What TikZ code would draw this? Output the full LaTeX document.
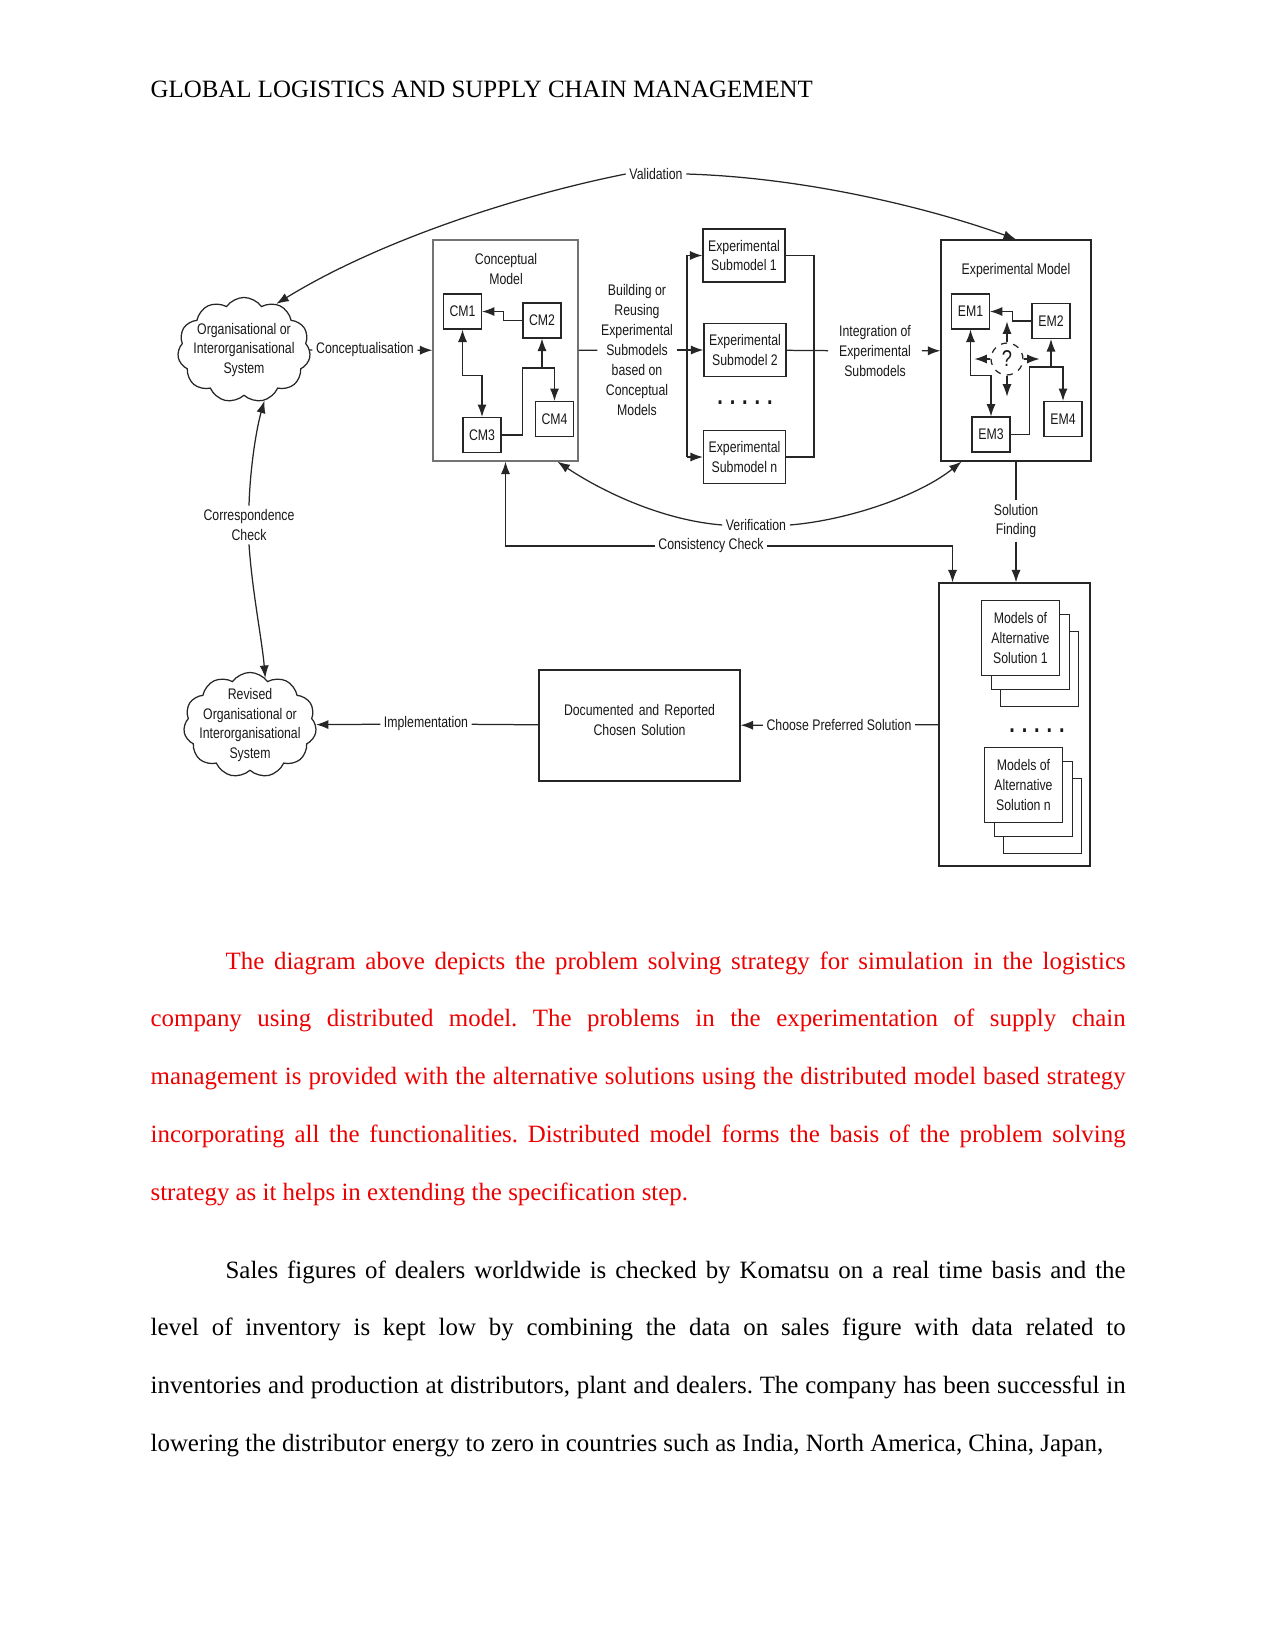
\documentclass[tikz,border=0pt]{standalone}
\usepackage{fontspec}
\setmainfont{Liberation Serif}
\newfontfamily\diagfont[FakeStretch=0.8]{Liberation Sans}
\usetikzlibrary{arrows.meta,shapes.symbols,fit,calc}
\definecolor{parared}{RGB}{236,0,0}

\tikzset{
	diag/.style={font=\diagfont\fontsize{7.4}{9.6}\selectfont, text=black!90},
	lbl/.style={inner sep=1.5pt, align=center},
	frame/.style={draw, inner sep=0pt, fit={#1}},
	mbox/.style={draw, minimum width=6.4mm, minimum height=5.9mm, inner sep=0pt},
	subbox/.style={draw, minimum width=13.9mm, minimum height=9mm, inner sep=0pt, align=center},
	sheet/.style={draw, fill=white, minimum width=13.2mm, minimum height=12.7mm, inner sep=0pt, align=center},
	org/.style={cloud, draw, cloud puffs=11, cloud puff arc=110, aspect=1.3, inner sep=-2mm,
			align=center, minimum width=22.5mm, minimum height=17.8mm},
	body/.style={font=\rmfamily\fontsize{12}{27.9}\selectfont, text width=6.5in,
			align=justify, inner sep=0pt, anchor=base west},
}

\begin{document}
\begin{tikzpicture}[x=0.16933mm, y=-0.16933mm, >={Latex[length=6pt,width=4.4pt]},
		line width=0.6pt, draw=black!85, diag]
	\fill[white] (0,0) rectangle (1275,1651);
	\useasboundingbox (0,0) rectangle (1275,1651);

	% page text
	\node[font=\rmfamily\fontsize{12}{14}\selectfont, text=black, anchor=base west, inner sep=0pt] (head)
	at (150,97) {GLOBAL LOGISTICS AND SUPPLY CHAIN MANAGEMENT};

	\node[body, text=parared] (para1) at (150,969) {\frenchspacing\hyphenpenalty=10000\relax
		\hspace*{0.5in}The diagram above depicts the problem solving
		strategy for simulation in the logistics\linebreak company using distributed model. The problems in the
		experimentation of supply chain\linebreak management is provided with the alternative solutions using the
		distributed model based strategy\linebreak incorporating all the functionalities. Distributed model forms
		the basis of the problem solving\linebreak strategy as it helps in extending the specification step.};

	\node[body, text=black] (para2) at (150,1278) {\frenchspacing\hyphenpenalty=10000\relax
		\parfillskip=0pt\relax\hspace*{0.5in}Sales figures of dealers
		worldwide is checked by Komatsu on a real time basis and the\linebreak level of inventory is kept low by
		combining the data on sales figure with data related to\linebreak inventories and production at
		distributors, plant and dealers. The company has been successful in\linebreak lowering the distributor
		energy to zero in countries such as India, North America, China, Japan,};

	% systems
	\node[org] (orgsys) at (244,350) {Organisational or\\Interorganisational\\System};
	\node[org] (revsys) at (250,725) {Revised\\Organisational or\\Interorganisational\\System};

	% conceptual model
	\node[frame={(433,240)(578,461)}, draw=black!55] (cmodel) {};
	\node[lbl] (cmtitle) at (506,269) {Conceptual\\Model};
	\node[mbox] (cm1) at (462.5,311.5) {CM1};
	\node[mbox] (cm2) at (542,320.5) {CM2};
	\node[mbox] (cm3) at (482,435) {CM3};
	\node[mbox] (cm4) at (554.5,419) {CM4};
	\coordinate (cmj) at (542,368);
	\draw[->] (cm2.west) -- ++(-19,0) |- (cm1.east);
	\draw[<->] (cm1.south) -- ++(0,46) -| (cm3.north);
	\draw[->] (cm3.east) -- ++(21,0) |- (cmj) -| (cm4.north);
	\draw[->] (cmj) -- (cm2.south);

	% experimental submodels
	\node[lbl] (bldlbl) at (637,350) {Building or\\Reusing\\Experimental\\Submodels\\based on\\Conceptual\\Models};
	\node[subbox] (sub1) at (744,255.5) {Experimental\\Submodel 1};
	\node[subbox] (sub2) at (745,350) {Experimental\\Submodel 2};
	\node[subbox] (subn) at (744.5,457) {Experimental\\Submodel n};
	\node[font=\diagfont\bfseries\fontsize{12}{12}\selectfont] (dotsa) at (745,403)
	{.\hspace{3.3pt}.\hspace{3.3pt}.\hspace{3.3pt}.\hspace{3.3pt}.};
	\coordinate (brl) at (687,0);
	\coordinate (brr) at (814,0);
	\draw[->] (brl |- subn.west) |- (sub1.west);
	\draw[->] (brl |- subn.west) -- (subn.west);
	\draw (sub1.east) -| (brr |- subn.east) -- (subn.east);
	\node[lbl, inner xsep=5pt] (intlbl) at (875,351) {Integration of\\Experimental\\Submodels};

	% experimental model
	\node[frame={(941,240)(1091,461)}] (emodel) {};
	\node[lbl] (emtitle) at (1016,271) {Experimental Model};
	\node[mbox] (em1) at (970.5,311.5) {EM1};
	\node[mbox] (em2) at (1051,321) {EM2};
	\node[mbox] (em3) at (991,434.5) {EM3};
	\node[mbox] (em4) at (1063,419) {EM4};
	\node[draw, dashed, circle, minimum size=5.4mm, inner sep=0pt,
		font=\diagfont\fontsize{11}{11}\selectfont] (q) at (1007,359) {?};
	\coordinate (emj) at (1051,367);
	\draw[->] (em2.west) -- ++(-19,0) |- (em1.east);
	\draw[<->] (em1.south) -- ++(0,46) -| (em3.north);
	\draw[->] (em3.east) -- ++(19,0) |- (emj) -| (em4.north);
	\draw[->] (emj) -- (em2.south);
	\foreach \a/\dx/\dy in {north/0/-21, south/0/21, west/-16/0, east/16/0} {
		\path (q.\a) ++(\dx,\dy) coordinate (q-\a-end);
		\draw[->] (q.\a) -- (q-\a-end);
	}

	% solutions
	\node[frame={(939,583)(1090,866)}] (solbox) {};
	\foreach \dx/\dy [count=\i] in {19/31, 10/14}
	\node[sheet] (altone\i) at ([shift={(\dx,\dy)}]1020.5,638.3) {};
	\node[sheet] (altone) at (1020.5,638.3) {Models of\\Alternative\\Solution 1};
	\node[font=\diagfont\bfseries\fontsize{12}{12}\selectfont] (dotsb) at (1037,731)
	{.\hspace{3.3pt}.\hspace{3.3pt}.\hspace{3.3pt}.\hspace{3.3pt}.};
	\foreach \dx/\dy [count=\i] in {19/31, 10/14}
	\node[sheet] (altn\i) at ([shift={(\dx,\dy)}]1023.5,785) {};
	\node[sheet] (altn) at (1023.5,785) {Models of\\Alternative\\Solution n};
	\node[frame={(539,670)(740,781)}, align=center] (docbox) {Documented and Reported\\Chosen Solution};

	% labels on connectors
	\node[lbl] (vallbl) at (656,174) {Validation};
	\node[lbl] (conclbl) at (365,350) {Conceptualisation};
	\node[lbl] (verlbl) at (756,525) {Verification};
	\node[lbl] (conlbl) at (711,546) {Consistency Check};
	\node[lbl] (sollbl) at (1016,521) {Solution\\Finding};
	\node[lbl] (corlbl) at (249,525) {Correspondence\\Check};
	\node[lbl] (implbl) at (426,724) {Implementation};
	\node[lbl] (chlbl) at (839,725) {Choose Preferred Solution};

	% connectors
	\draw (orgsys) -- (conclbl);
	\draw[->] (conclbl) -- (cmodel);
	\draw (cmodel) -- (bldlbl);
	\draw[->] (bldlbl) -- (sub2);
	\draw (sub2) -- (intlbl);
	\draw[->] (intlbl) -- (emodel);
	\draw[->] (vallbl.west) .. controls (520,195) and (380,240) .. (orgsys.55);
	\draw[->] (vallbl.east) .. controls (820,178) and (950,215) .. (emodel.north);
	\draw[->] (verlbl.west) .. controls (660,520) and (600,490) .. ($(cmodel.south west)!0.855!(cmodel.south east)$);
	\draw[->] (verlbl.east) .. controls (850,520) and (920,495) .. ($(emodel.south west)!0.14!(emodel.south east)$);
	\coordinate (solin) at ([xshift=2.4mm]solbox.north west);
	\draw[->] (conlbl.west) -| (cmodel.south);
	\draw[->] (conlbl.east) -| (solin);
	\draw (emodel.south) -- (sollbl);
	\draw[->] (sollbl) -- (sollbl |- solbox.north);
	\draw (solbox) -- (chlbl);
	\draw[->] (chlbl) -- (docbox);
	\draw (docbox) -- (implbl);
	\draw[->] (implbl) -- (revsys);
	\draw[->] (corlbl.north) .. controls (250,470) and (256,430) .. (orgsys.-68);
	\draw[->] (corlbl.south) .. controls (252,590) and (262,640) .. (revsys.72);
\end{tikzpicture}
\end{document}
